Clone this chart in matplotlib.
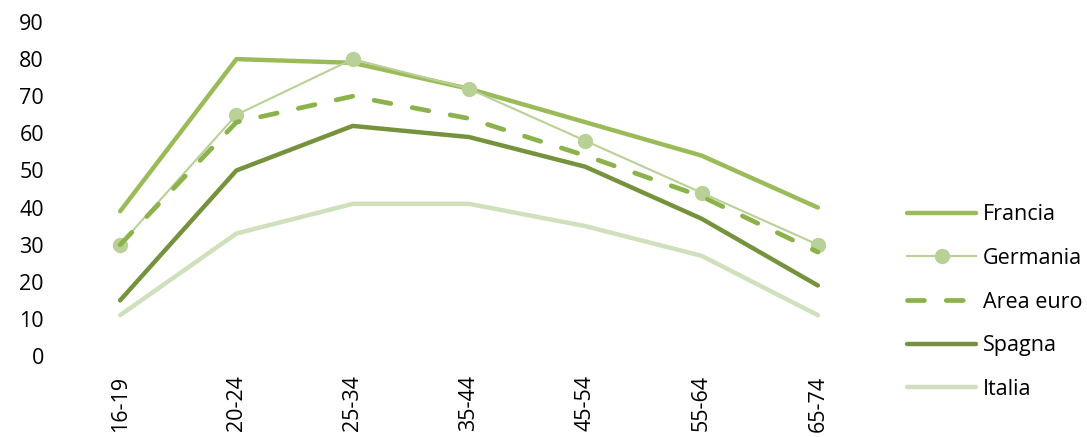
import matplotlib
matplotlib.use("Agg")
import matplotlib.pyplot as plt

plt.rcParams['font.family'] = ['Open Sans', 'DejaVu Sans']

# fasce di età
classi = ["16-19", "20-24", "25-34", "35-44", "45-54", "55-64", "65-74"]

francia = [39, 80, 79, 72, 63, 54, 40]
germania = [30, 65, 80, 72, 58, 44, 30]
area_euro = [30, 63, 70, 64, 54, 43, 28]
spagna = [15, 50, 62, 59, 51, 37, 19]
italia = [11, 33, 41, 41, 35, 27, 11]

fig = plt.figure(figsize=(10.87, 4.37), dpi=100)
ax = fig.add_axes([62 / 1087, 81 / 437, 814 / 1087, 334 / 437])

x = range(len(classi))
ax.plot(x, francia, color="#9bbb59", lw=3.2, solid_capstyle="round", label="Francia")
ax.plot(x, germania, color="#b9d097", lw=1.5, marker="o", ms=10, label="Germania")
ax.plot(x, area_euro, color="#8cb24c", lw=3.4, ls=(0, (3.6, 4.6)), dash_capstyle="round",
        label="Area euro")
ax.plot(x, spagna, color="#76923c", lw=3.2, solid_capstyle="round", label="Spagna")
ax.plot(x, italia, color="#d0dfbc", lw=3.2, solid_capstyle="round", label="Italia")

ax.set_xlim(-0.5, len(classi) - 0.5)
ax.set_ylim(0, 90)
ax.set_yticks(range(0, 91, 10))
ax.set_xticks(list(x))
ax.set_xticklabels(classi, rotation=90)
ax.tick_params(length=0, labelsize=15.5, colors="black")
ax.tick_params(axis="y", pad=13)
ax.tick_params(axis="x", pad=14)
for s in ax.spines.values():
    s.set_visible(False)

fig.legend(loc="center left", bbox_to_anchor=(888 / 1087, (437 - 302) / 437), frameon=False,
           fontsize=15.5, handlelength=3.2, handletextpad=0.3, labelspacing=1.05)

fig.savefig("out.png", dpi=100)
